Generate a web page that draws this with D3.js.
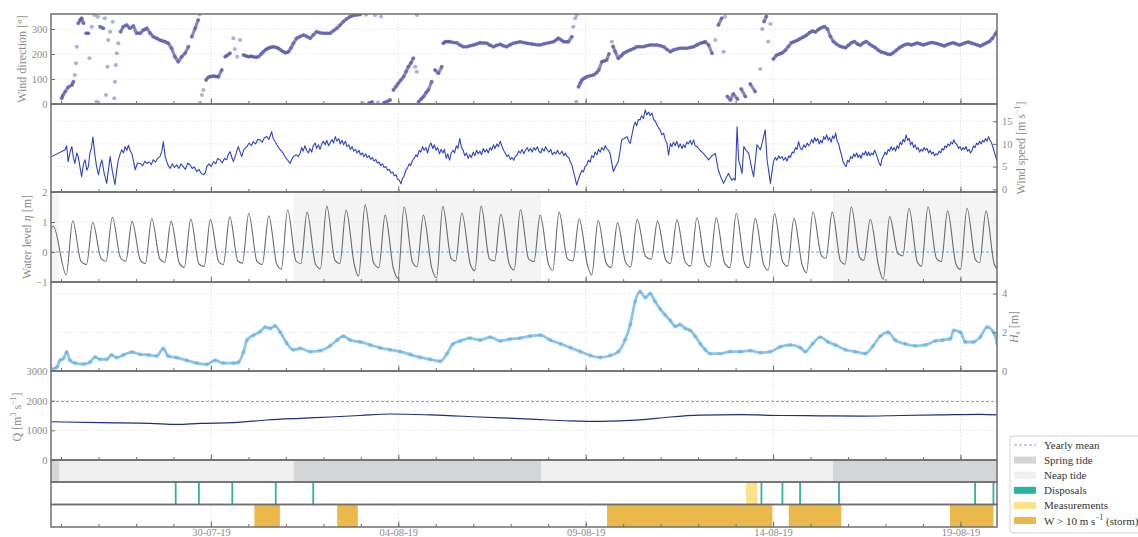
<!DOCTYPE html>
<html>
<head>
<meta charset="utf-8">
<script src="https://cdn.jsdelivr.net/npm/d3@7"></script>
<style>
  body { margin: 0; background: #fff; }
  svg { display: block; }
  text { font-family: "Liberation Serif", "DejaVu Serif", serif; }
</style>
</head>
<body>
<svg id="chart" width="1138" height="537"></svg>
<script>
// Times are fractional days counted from 26-07-2019 00:00 (UTC).
const T0 = Date.UTC(2019, 6, 26);
const day = d => new Date(T0 + d * 864e5);

const timeSpan = [-0.267, 24.975];
const dateTicks = ["2019-07-30", "2019-08-04", "2019-08-09", "2019-08-14", "2019-08-19"];

const windDirTicks = [0, 100, 200, 300];
const windSpeedTicks = [0, 5, 10, 15];
const waterTicks = [-1, 0, 1, 2];
const hsTicks = [0, 2, 4];
const qTicks = [0, 1000, 2000, 3000];

// Wind direction [deg]
const windDirection = [
[0.02,23],[0.05,35],[0.11,49],[0.19,67],[0.29,76],[0.33,89],[0.37,116],[0.40,163],[0.42,229],[0.46,323],[0.51,336],[0.55,343],[0.60,323],[0.67,283],[0.73,283],[0.76,183],[0.82,309],[0.89,356],[0.95,9],[0.98,349],[1.04,309],[1.13,303],[1.17,343],[1.20,36],[1.24,149],[1.26,256],[1.31,289],[1.38,329],[1.42,23],[1.44,89],[1.46,156],[1.49,203],[1.53,243],[1.59,289],[1.66,309],[1.75,316],[1.84,303],[1.93,312],[2.02,283],[2.11,283],[2.20,296],[2.29,303],[2.38,283],[2.46,269],[2.55,263],[2.64,256],[2.71,252],[2.78,249],[2.86,243],[2.95,223],[3.04,189],[3.13,169],[3.22,189],[3.31,203],[3.40,229],[3.49,269],[3.58,303],[3.66,336],[3.70,358],[3.71,5],[3.76,36],[3.80,56],[3.87,96],[3.93,107],[4.00,110],[4.07,112],[4.14,110],[4.20,109],[4.29,136],[4.38,189],[4.44,195],[4.51,203],[4.60,263],[4.64,220],[4.70,189],[4.78,256],[4.87,196],[4.94,192],[5.00,189],[5.07,191],[5.13,189],[5.20,187],[5.27,189],[5.34,200],[5.40,209],[5.47,218],[5.53,223],[5.60,227],[5.67,229],[5.74,226],[5.80,223],[5.87,215],[5.93,209],[6.00,205],[6.07,209],[6.14,225],[6.20,243],[6.29,263],[6.38,270],[6.47,276],[6.56,270],[6.65,263],[6.73,276],[6.82,289],[6.91,285],[7.00,283],[7.09,283],[7.18,283],[7.27,293],[7.36,303],[7.45,316],[7.53,329],[7.62,340],[7.71,349],[7.80,354],[7.89,356],[7.98,358],[8.06,3],[8.14,357],[8.22,4],[8.30,8],[8.38,355],[8.46,6],[8.54,350],[8.62,5],[8.70,10],[8.78,16],[8.87,56],[8.94,70],[9.00,83],[9.07,96],[9.14,109],[9.21,130],[9.27,149],[9.34,165],[9.40,183],[9.45,149],[9.49,129],[9.50,356],[9.54,9],[9.61,20],[9.67,29],[9.74,45],[9.80,56],[9.89,89],[9.98,136],[10.07,123],[10.16,149],[10.20,243],[10.25,249],[10.32,250],[10.38,249],[10.47,246],[10.56,245],[10.65,235],[10.74,229],[10.83,229],[10.92,233],[11.01,236],[11.09,240],[11.18,245],[11.27,244],[11.36,243],[11.45,235],[11.54,229],[11.63,235],[11.72,239],[11.80,233],[11.89,229],[11.98,237],[12.07,243],[12.16,246],[12.25,249],[12.34,246],[12.43,243],[12.52,241],[12.60,239],[12.69,237],[12.78,236],[12.87,240],[12.96,243],[13.05,246],[13.14,249],[13.21,256],[13.27,263],[13.35,256],[13.41,249],[13.48,249],[13.54,249],[13.63,269],[13.67,309],[13.72,343],[13.75,9],[13.76,356],[13.81,69],[13.86,85],[13.90,96],[13.96,103],[14.03,109],[14.12,113],[14.21,116],[14.29,125],[14.35,136],[14.43,169],[14.49,172],[14.56,176],[14.62,200],[14.70,249],[14.73,230],[14.79,209],[14.87,183],[14.95,193],[15.01,203],[15.10,210],[15.19,216],[15.28,222],[15.37,229],[15.45,229],[15.54,229],[15.63,233],[15.72,236],[15.81,236],[15.90,236],[15.99,233],[16.08,229],[16.17,218],[16.26,209],[16.34,216],[16.43,220],[16.52,223],[16.61,223],[16.70,223],[16.79,226],[16.88,229],[16.97,236],[17.06,243],[17.14,246],[17.19,249],[17.28,236],[17.37,203],[17.46,256],[17.54,316],[17.63,343],[17.68,209],[17.72,349],[17.78,30],[17.86,16],
[17.94,40],[18.05,20],[18.15,60],[18.26,30],[18.39,80],[18.52,50],[18.66,140],[18.71,300],[18.76,330],[18.82,350],[18.87,250],[18.93,320],[19.01,180],[19.09,195],[19.17,200],[19.25,205],[19.33,215],[19.41,230],[19.49,245],[19.57,250],[19.65,255],[19.73,262],[19.81,268],[19.89,275],[19.97,285],[20.05,292],[20.13,288],[20.21,298],[20.29,305],[20.37,310],[20.45,300],[20.53,270],[20.61,250],[20.69,240],[20.77,232],[20.85,228],[20.93,225],[21.01,235],[21.09,245],[21.17,250],[21.25,240],[21.33,235],[21.41,245],[21.49,250],[21.57,240],[21.65,232],[21.73,225],[21.81,215],[21.89,208],[21.97,205],[22.05,200],[22.13,198],[22.21,205],[22.29,215],[22.37,225],[22.45,232],[22.53,238],[22.61,240],[22.69,236],[22.77,240],[22.85,244],[22.93,240],[23.01,236],[23.09,240],[23.17,244],[23.25,246],[23.33,243],[23.41,240],[23.49,236],[23.57,232],[23.65,238],[23.73,242],[23.81,245],[23.89,240],[23.97,236],[24.05,240],[24.13,245],[24.21,248],[24.29,244],[24.37,240],[24.45,236],[24.53,232],[24.61,238],[24.69,244],[24.77,250],[24.85,262],[24.93,280],[24.98,290]
];

// Wind speed [m/s]
const windSpeed = [
[-0.25,7.2],[0.11,8.7],[0.15,9.6],[0.19,6.1],[0.24,8.2],[0.29,9.4],[0.33,7.0],[0.37,5.7],[0.42,8.0],[0.46,7.2],[0.50,5.2],[0.55,2.8],[0.60,5.6],[0.64,6.5],[0.69,4.2],[0.73,5.0],[0.77,7.9],[0.81,9.0],[0.85,11.5],[0.88,9.4],[0.91,7.2],[0.95,5.0],[1.00,3.2],[1.05,5.4],[1.09,6.5],[1.15,3.6],[1.22,1.3],[1.27,4.6],[1.31,7.2],[1.37,4.0],[1.44,1.0],[1.49,4.4],[1.53,6.5],[1.58,7.8],[1.62,8.7],[1.67,8.0],[1.71,9.4],[1.76,8.6],[1.80,9.7],[1.85,8.4],[1.89,7.9],[1.94,6.0],[1.98,4.3],[2.04,5.8],[2.11,5.7],[2.18,5.2],[2.24,6.2],[2.29,5.7],[2.36,6.0],[2.41,5.4],[2.46,6.5],[2.52,6.0],[2.58,6.8],[2.64,7.2],[2.69,8.4],[2.73,10.5],[2.78,7.2],[2.84,5.6],[2.91,4.6],[2.97,5.6],[3.03,4.8],[3.09,5.4],[3.15,4.6],[3.20,5.6],[3.26,5.0],[3.32,4.4],[3.38,5.8],[3.44,5.4],[3.50,4.6],[3.56,4.9],[3.62,3.9],[3.68,4.4],[3.74,3.5],[3.80,3.2],[3.85,3.6],[3.89,5.0],[3.95,5.6],[4.01,5.0],[4.07,6.1],[4.13,5.6],[4.18,6.8],[4.24,6.5],[4.30,5.8],[4.36,6.8],[4.42,6.5],[4.46,7.6],[4.51,8.3],[4.56,7.0],[4.60,6.1],[4.66,7.6],[4.73,9.4],[4.78,8.2],[4.82,7.2],[4.88,8.8],[4.96,9.4],[5.02,10.2],[5.08,9.6],[5.13,10.5],[5.19,10.0],[5.25,11.0],[5.31,10.9],[5.37,10.4],[5.43,11.4],[5.49,11.6],[5.55,11.0],[5.62,12.7],[5.66,11.2],[5.71,10.6],[5.76,9.8],[5.82,9.0],[5.88,8.4],[5.93,7.9],[5.99,7.0],[6.05,6.4],[6.11,5.7],[6.16,6.6],[6.20,7.2],[6.28,7.6],[6.33,7.2],
[6.38,7.9],[6.42,9.2],[6.46,8.4],[6.51,9.6],[6.55,8.6],[6.60,8.0],[6.64,9.0],[6.69,8.2],[6.73,9.6],[6.78,10.2],[6.82,9.0],[6.87,9.8],[6.91,8.8],[6.96,10.0],[7.00,10.6],[7.05,9.8],[7.09,10.8],[7.14,9.6],[7.18,10.2],[7.23,11.0],[7.27,10.2],[7.32,11.6],[7.36,10.6],[7.41,11.2],[7.45,10.0],[7.50,10.8],[7.54,9.8],[7.59,10.6],[7.63,9.4],[7.68,9.8],[7.72,8.8],[7.77,9.4],[7.81,8.4],[7.86,8.8],[7.90,8.0],[7.95,8.6],[7.99,7.6],[8.04,8.0],[8.08,7.2],[8.13,7.8],[8.17,7.0],[8.22,7.4],[8.26,6.6],[8.31,7.0],[8.35,6.2],[8.40,6.6],[8.44,5.8],[8.49,6.0],[8.53,5.2],[8.58,5.6],[8.62,4.8],[8.67,5.0],[8.71,4.2],[8.76,4.4],[8.80,3.6],[8.85,3.8],[8.89,3.0],[8.94,3.2],[8.98,2.2],[9.03,2.0],[9.07,1.2],[9.11,2.4],[9.15,2.8],[9.20,4.2],[9.24,4.6],[9.29,5.6],[9.33,5.2],[9.38,6.4],[9.42,6.8],[9.47,7.6],[9.51,7.2],[9.56,8.6],[9.60,8.2],[9.65,9.4],[9.69,8.6],[9.74,9.2],[9.78,8.0],[9.83,9.6],[9.87,10.2],[9.92,9.0],[9.96,9.8],[10.01,8.6],[10.05,9.2],[10.10,7.8],[10.14,8.8],[10.19,8.0],[10.23,8.8],[10.28,6.8],[10.32,7.8],[10.37,6.4],[10.41,8.0],[10.46,8.6],[10.50,8.0],[10.55,9.6],[10.59,9.0],[10.64,11.2],[10.68,9.4],[10.73,8.6],[10.77,7.4],[10.82,8.0],[10.86,6.8],[10.91,7.6],[10.95,7.0],[11.00,8.2],[11.04,7.4],[11.09,8.6],[11.13,7.8],[11.18,8.4],[11.22,7.6],[11.27,9.0],[11.31,8.2],[11.36,8.8],[11.40,8.0],[11.45,9.2],[11.49,8.6],[11.54,9.8],[11.58,9.0],[11.63,10.0],[11.67,9.4],[11.72,10.6],[11.76,9.6],[11.81,8.6],[11.85,8.0],[11.90,7.2],[11.94,7.6],[11.99,6.6],[12.03,7.0],[12.08,6.4],[12.12,7.2],[12.17,7.6],[12.21,8.4],[12.26,8.0],[12.30,8.8],[12.35,7.8],[12.39,8.6],[12.44,9.2],[12.48,8.4],[12.53,9.0],[12.57,8.2],[12.62,9.2],[12.66,8.6],[12.71,9.4],[12.75,8.4],[12.80,8.0],[12.84,9.0],[12.89,8.4],[12.93,9.4],[12.98,8.6],[13.02,8.2],[13.07,8.8],[13.11,7.6],[13.16,8.2],[13.20,7.8],[13.25,8.6],[13.29,7.8],
[13.33,7.9],[13.37,8.4],[13.42,7.4],[13.46,8.0],[13.50,7.2],[13.55,7.0],[13.59,6.0],[13.63,5.4],[13.67,4.0],[13.72,2.4],[13.76,0.9],[13.80,2.0],[13.85,3.2],[13.90,4.2],[13.94,3.8],[13.98,5.0],[14.03,5.4],[14.07,6.4],[14.12,6.0],[14.16,7.4],[14.21,7.0],[14.25,8.2],[14.30,7.6],[14.34,8.8],[14.39,8.2],[14.43,9.2],[14.48,8.6],[14.52,9.6],[14.57,8.8],[14.61,8.6],[14.65,7.9],[14.70,5.6],[14.74,3.9],[14.80,5.0],[14.87,6.1],[14.92,8.6],[14.96,10.9],[15.03,11.2],[15.10,11.6],[15.15,10.6],[15.19,10.1],[15.24,12.2],[15.28,13.8],[15.32,14.8],[15.36,14.0],[15.41,15.4],[15.45,15.3],[15.49,16.2],[15.54,15.6],[15.59,17.5],[15.63,16.4],[15.68,17.0],[15.72,16.2],[15.77,16.8],[15.81,15.4],[15.86,15.0],[15.90,14.2],[15.94,13.6],[15.99,13.0],[16.03,12.0],[16.08,12.4],[16.12,11.0],[16.17,10.1],[16.21,7.5],[16.26,10.1],[16.30,9.4],[16.34,10.4],[16.39,9.6],[16.43,10.6],[16.48,9.2],[16.52,10.0],[16.57,9.0],[16.61,9.8],[16.65,9.2],[16.70,10.4],[16.74,10.0],[16.79,10.8],[16.83,9.8],[16.88,10.9],[16.92,9.6],[16.97,9.4],[17.05,8.6],[17.14,7.9],[17.21,7.2],[17.28,6.5],[17.37,7.4],[17.46,7.9],[17.50,6.0],[17.54,4.2],[17.61,2.6],[17.68,1.3],[17.75,2.6],[17.81,3.5],[17.86,2.6],[17.90,2.0],[17.95,2.4],[17.99,2.0],[18.04,13.8],[18.08,6.5],[18.13,5.0],[18.17,3.5],[18.22,9.4],[18.28,8.6],[18.35,7.9],[18.42,5.0],[18.48,2.8],[18.53,6.6],[18.57,9.8],[18.62,9.2],[18.66,8.7],[18.72,10.6],[18.79,13.1],[18.84,6.5],[18.90,3.0],[18.93,1.3],[18.97,3.8],[19.01,6.1],[19.06,7.0],[19.10,6.4],[19.15,7.4],[19.19,6.8],[19.24,7.2],[19.28,6.4],[19.33,7.0],[19.37,6.2],[19.42,7.4],[19.46,7.0],[19.51,8.2],[19.55,8.0],[19.60,9.2],[19.64,8.8],[19.68,10.5],[19.73,9.0],[19.77,8.7],[19.82,9.8],[19.86,9.2],[19.91,10.2],[19.95,9.6],
[19.99,10.1],[20.03,11.0],[20.07,10.2],[20.11,11.4],[20.15,10.6],[20.19,11.2],[20.23,10.0],[20.27,10.8],[20.31,10.2],[20.35,11.6],[20.39,11.0],[20.43,12.0],[20.47,10.8],[20.51,11.4],[20.55,10.4],[20.59,11.8],[20.63,11.2],[20.67,12.4],[20.71,10.6],[20.75,10.0],[20.79,8.6],[20.83,7.4],[20.87,6.0],[20.91,5.4],[20.95,5.0],[20.99,6.4],[21.03,6.0],[21.07,7.2],[21.11,6.8],[21.15,7.8],[21.19,7.2],[21.23,8.0],[21.27,7.0],[21.31,7.6],[21.35,6.8],[21.39,8.0],[21.43,7.6],[21.47,8.4],[21.51,7.4],[21.55,8.2],[21.59,7.4],[21.63,8.0],[21.67,7.6],[21.71,8.6],[21.75,7.8],[21.79,6.8],[21.83,5.8],[21.87,5.2],[21.91,6.8],[21.95,7.4],[21.99,8.2],[22.03,7.6],[22.07,8.8],[22.11,8.4],[22.15,9.4],[22.19,8.6],[22.23,9.2],[22.27,8.4],[22.31,9.6],[22.35,9.0],[22.39,10.4],[22.43,9.8],[22.47,11.0],[22.51,10.4],[22.55,12.0],[22.59,10.8],[22.63,11.2],[22.67,9.8],[22.71,10.4],[22.75,9.2],[22.79,9.8],[22.83,8.8],[22.87,9.2],[22.91,8.2],[22.95,8.8],[22.99,8.4],[23.03,9.2],[23.07,8.6],[23.11,9.0],[23.15,8.0],[23.19,8.6],[23.23,7.8],[23.27,8.2],[23.31,7.4],[23.35,7.8],[23.39,7.6],[23.43,8.4],[23.47,8.0],[23.51,9.0],[23.55,8.6],[23.59,9.6],[23.63,9.2],[23.67,10.0],[23.71,9.6],[23.75,10.4],[23.79,10.0],[23.82,10.9],[23.86,10.2],[23.91,9.8],[23.95,9.0],[23.99,9.4],[24.03,8.6],[24.07,9.2],[24.11,8.8],[24.15,9.4],[24.19,8.4],[24.23,8.8],[24.27,8.0],[24.31,8.6],[24.35,9.6],[24.39,9.2],[24.43,10.2],[24.47,9.8],[24.51,10.6],[24.55,10.0],[24.59,10.8],[24.63,10.4],[24.67,11.2],[24.71,10.6],[24.75,11.6],[24.79,10.8],[24.83,10.2],[24.87,9.2],[24.91,8.0],[24.95,7.0],[24.98,6.1]
];

// Water level [m]: high waters, ebb shoulders, low waters and the two ends of the record
const highWater = [
[-0.206,0.86],[0.312,1.04],[0.846,0.99],[1.369,1.16],[1.895,1.02],[2.421,1.11],[2.936,1.02],[3.462,1.10],[3.985,1.08],[4.503,1.17],[5.010,1.29],[5.544,1.21],[6.046,1.40],[6.566,1.33],[7.092,1.53],[7.607,1.40],[8.114,1.57],[8.648,1.23],[9.155,1.51],[9.670,1.23],[10.188,1.52],[10.695,1.31],[11.210,1.53],[11.736,1.26],[12.259,1.41],[12.785,1.23],[13.292,1.33],[13.826,1.11],[14.333,1.06],[14.848,0.97],[15.374,1.09],[15.916,1.03],[16.434,1.07],[16.968,1.14],[17.483,1.14],[18.017,1.29],[18.524,1.12],[19.039,1.28],[19.557,1.12],[20.064,1.34],[20.579,1.33],[21.087,1.50],[21.594,1.09],[22.109,1.18],[22.627,1.46],[23.134,1.51],[23.657,1.37],[24.175,1.46],[24.682,1.37]
];
const ebbShoulder = [
[0.53,-0.30],[1.07,-0.22],[1.59,-0.20],[2.12,-0.28],[2.64,-0.24],[3.16,-0.38],[3.68,-0.40],[4.21,-0.33],[4.72,-0.30],[5.23,-0.32],[5.76,-0.42],[6.27,-0.30],[6.79,-0.40],[7.31,-0.28],[7.83,-0.45],[8.34,-0.36],[8.87,-0.55],[9.38,-0.34],[9.89,-0.52],[10.41,-0.22],[10.92,-0.40],[11.43,-0.22],[11.96,-0.40],[12.48,-0.24],[13.01,-0.42],[13.51,-0.22],[14.05,-0.45],[14.55,-0.38],[15.07,-0.36],[15.60,-0.15],[16.14,-0.28],[16.66,-0.34],[17.19,-0.36],[17.71,-0.38],[18.24,-0.38],[18.75,-0.42],[19.26,-0.34],[19.78,-0.45],[20.29,-0.12],[20.80,-0.30],[21.31,-0.18],[21.82,-0.50],[22.33,-0.05],[22.85,-0.34],[23.36,-0.22],[23.88,-0.40],[24.40,-0.26],[24.90,-0.40]
];
const lowWater = [
[0.14,-0.76],[0.68,-0.42],[1.20,-0.31],[1.73,-0.31],[2.25,-0.39],[2.77,-0.34],[3.29,-0.51],[3.82,-0.48],[4.33,-0.42],[4.84,-0.37],[5.37,-0.42],[5.88,-0.57],[6.40,-0.39],[6.92,-0.56],[7.44,-0.39],[7.94,-0.80],[8.48,-0.52],[8.99,-0.88],[9.50,-0.49],[10.02,-0.86],[10.53,-0.30],[11.04,-0.63],[11.57,-0.30],[12.09,-0.60],[12.62,-0.32],[13.12,-0.61],[13.66,-0.30],[14.16,-0.77],[14.68,-0.52],[15.20,-0.50],[15.75,-0.24],[16.26,-0.39],[16.80,-0.47],[17.31,-0.50],[17.85,-0.52],[18.35,-0.52],[18.87,-0.61],[19.39,-0.47],[19.89,-0.69],[20.41,-0.21],[20.92,-0.41],[21.42,-0.28],[21.94,-0.91],[22.46,-0.13],[22.96,-0.47],[23.49,-0.32],[24.00,-0.58],[24.51,-0.36]
];
const waterEnds = [[-0.267,0.80],[24.975,-0.55]];

// Significant wave height [m]
const waveHeight = [
[-0.25,0.09],[-0.11,0.2],[-0.03,0.55],[0.06,0.64],[0.15,0.98],[0.24,0.55],[0.37,0.41],[0.60,0.36],[0.77,0.45],[0.91,0.72],[1.04,0.6],[1.22,0.6],[1.35,0.83],[1.49,0.69],[1.66,0.83],[1.89,0.98],[2.11,0.86],[2.33,0.83],[2.55,0.77],[2.73,1.16],[2.86,0.77],[3.09,0.69],[3.36,0.55],[3.62,0.41],[3.89,0.34],[4.11,0.55],[4.33,0.41],[4.60,0.41],[4.73,0.45],[4.87,0.98],[4.96,1.59],[5.13,1.84],[5.31,2.02],[5.45,2.27],[5.58,2.2],[5.71,2.33],[5.85,2.0],[6.02,1.45],[6.20,1.1],[6.38,1.17],[6.65,1.0],[6.91,1.05],[7.18,1.3],[7.37,1.6],[7.53,1.8],[7.71,1.6],[7.98,1.5],[8.25,1.35],[8.51,1.2],[8.78,1.1],[9.05,1.0],[9.32,0.85],[9.58,0.7],[9.85,0.6],[10.12,0.5],[10.30,0.9],[10.46,1.4],[10.65,1.55],[10.91,1.7],[11.18,1.6],[11.45,1.75],[11.72,1.55],[11.98,1.65],[12.25,1.7],[12.52,1.8],[12.79,1.85],[13.05,1.6],[13.33,1.4],[13.60,1.2],[13.86,1.0],[14.12,0.8],[14.39,0.7],[14.65,0.8],[14.87,1.0],[15.05,1.6],[15.19,2.4],[15.32,3.6],[15.45,4.1],[15.59,3.8],[15.72,4.0],[15.85,3.6],[15.99,3.2],[16.12,2.9],[16.26,2.6],[16.39,2.3],[16.52,2.4],[16.66,2.2],[16.79,2.1],[16.92,1.8],[17.06,1.4],[17.19,1.1],[17.32,0.9],[17.59,0.9],[17.86,1.0],[18.12,1.0],[18.39,1.05],[18.66,0.95],[18.93,1.0],[19.19,1.25],[19.46,1.35],[19.73,1.2],[19.86,1.0],[20.05,1.4],[20.26,1.75],[20.47,1.5],[20.66,1.35],[20.93,1.1],[21.19,1.0],[21.46,0.9],[21.67,1.3],[21.86,1.8],[22.07,2.0],[22.26,1.6],[22.53,1.4],[22.79,1.3],[23.06,1.35],[23.33,1.55],[23.52,1.6],[23.73,1.67],[23.82,2.1],[24.00,2.0],[24.13,1.5],[24.35,1.5],[24.53,1.76],[24.71,2.27],[24.88,2.0],[24.98,1.42]
];

// River discharge [m3/s]
const discharge = [
[-0.25,1290],[1.04,1257],[2.38,1236],[3.09,1203],[3.71,1236],[4.60,1257],[5.49,1348],[6.38,1405],[7.18,1450],[7.98,1500],[8.78,1550],[9.85,1520],[11.18,1450],[12.52,1380],[13.60,1320],[14.39,1300],[15.45,1350],[16.26,1450],[17.06,1510],[18.12,1530],[19.19,1500],[20.26,1490],[21.33,1480],[22.39,1500],[23.46,1520],[24.53,1540],[24.98,1520]
];
const yearlyMeanDischarge = 1970;

// Event periods [start, end] in days
const springTide = [[-0.267, -0.045], [6.20, 12.81], [20.60, 24.975]];
const neapTide = [[-0.045, 6.20], [12.81, 20.60]];
const disposals = [3.06, 3.68, 4.57, 5.73, 6.73, 18.69, 19.25, 19.72, 20.76, 24.39, 24.88];
const measurements = [[18.28, 18.58]];
const storms = [[5.16, 5.84], [7.37, 7.92], [14.57, 18.98], [19.42, 20.82], [23.72, 24.88]];

const legendLabels = ["Yearly mean", "Spring tide", "Neap tide", "Disposals", "Measurements", "W > 10 m s"];

// ---------------------------------------------------------------
const svg = d3.select("#chart");
const X_LEFT = 51, X_RIGHT = 997;
const x = d3.scaleUtc().domain(timeSpan.map(day)).range([X_LEFT, X_RIGHT]);
const tx = d => x(day(d));

const band = {
  dir: [14, 104], spd: [104, 192], wl: [192, 282], hs: [282, 371],
  q: [371, 460], tide: [460, 482], disp: [482, 504.5], storm: [504.5, 527]
};

const yDir = d3.scaleLinear([0, 360], [band.dir[1], band.dir[0]]);
const ySpd = d3.scaleLinear([-0.6, 18.8], [band.spd[1], band.spd[0]]);
const yWl = d3.scaleLinear([-1, 2], [band.wl[1], band.wl[0]]);
const yHs = d3.scaleLinear([0, 4.6], [band.hs[1], band.hs[0]]);
const yQ = d3.scaleLinear([0, 3000], [band.q[1], band.q[0]]);

const FRAME = "#6f6f6f", TICK_TEXT = "#8a8a8a", GRID = "#d6d6d6", MEAN = "#7aa3d6";
const majorDates = dateTicks.map(d3.utcParse("%Y-%m-%d"));
const dayTicks = d3.utcDay.range(x.domain()[0], x.domain()[1]);

const defs = svg.append("defs");
Object.entries(band).forEach(([k, [t, b]]) => {
  defs.append("clipPath").attr("id", "clip-" + k)
    .append("rect").attr("x", X_LEFT).attr("y", t).attr("width", X_RIGHT - X_LEFT).attr("height", b - t);
});
const layer = k => svg.append("g").attr("clip-path", `url(#clip-${k})`);

// spring-tide shading behind the water level
layer("wl").selectAll("rect").data(springTide).join("rect")
  .attr("x", d => tx(d[0])).attr("width", d => tx(d[1]) - tx(d[0]))
  .attr("y", band.wl[0]).attr("height", band.wl[1] - band.wl[0])
  .attr("fill", "#f4f4f4");

// grids
function vGrid(k) {
  svg.append("g").selectAll("line").data(majorDates).join("line")
    .attr("x1", d => x(d)).attr("x2", d => x(d))
    .attr("y1", band[k][0]).attr("y2", band[k][1])
    .attr("stroke", GRID).attr("stroke-width", 0.8).attr("stroke-dasharray", "1.2,2");
}
function hGrid(y, vals) {
  svg.append("g").selectAll("line").data(vals).join("line")
    .attr("x1", X_LEFT).attr("x2", X_RIGHT)
    .attr("y1", d => y(d)).attr("y2", d => y(d))
    .attr("stroke", GRID).attr("stroke-width", 0.8).attr("stroke-dasharray", "1.2,2");
}
["dir", "spd", "wl", "hs", "q", "storm"].forEach(vGrid);
hGrid(yDir, [100, 200, 300]);
hGrid(ySpd, [5, 10, 15]);
hGrid(yWl, [1]);
hGrid(yHs, [2, 4]);
hGrid(yQ, [1000, 2000]);

// wind direction: slowly veering stretches form a dense track, fast swings stay as loose dots
const dirRuns = [];
let run = [windDirection[0]];
for (let i = 1; i < windDirection.length; i++) {
  const a = windDirection[i - 1], b = windDirection[i];
  const jump = Math.abs(b[1] - a[1]);
  if (jump < 40 && jump / (b[0] - a[0]) < 450) run.push(b);
  else { dirRuns.push(run); run = [b]; }
}
dirRuns.push(run);
const dirG = layer("dir");
dirG.selectAll("path").data(dirRuns.filter(r => r.length > 1)).join("path")
  .attr("d", d3.line().x(d => tx(d[0])).y(d => yDir(d[1])))
  .attr("fill", "none").attr("stroke", "#3d3d9c").attr("stroke-opacity", 0.6)
  .attr("stroke-width", 3.2).attr("stroke-linecap", "round").attr("stroke-linejoin", "round");
dirG.selectAll("circle").data(windDirection).join("circle")
  .attr("cx", d => tx(d[0])).attr("cy", d => yDir(d[1]))
  .attr("r", 2.1).attr("fill", "#3d3d9c").attr("fill-opacity", 0.4);

// wind speed
layer("spd").append("path").datum(windSpeed)
  .attr("d", d3.line().x(d => tx(d[0])).y(d => ySpd(d[1])))
  .attr("fill", "none").attr("stroke", "#2e44c2").attr("stroke-width", 1.1).attr("stroke-linejoin", "round");

// water level
const tide = [...waterEnds, ...highWater, ...ebbShoulder, ...lowWater].sort((a, b) => a[0] - b[0]);
const wl = layer("wl");
wl.append("line").attr("x1", X_LEFT).attr("x2", X_RIGHT).attr("y1", yWl(0)).attr("y2", yWl(0))
  .attr("stroke", MEAN).attr("stroke-width", 1).attr("stroke-dasharray", "3,2");
wl.append("path").datum(tide)
  .attr("d", d3.line().x(d => tx(d[0])).y(d => yWl(d[1])).curve(d3.curveMonotoneX))
  .attr("fill", "none").attr("stroke", "#6a6a6a").attr("stroke-width", 1.1);

// wave height
const hs = layer("hs");
hs.append("path").datum(waveHeight)
  .attr("d", d3.line().x(d => tx(d[0])).y(d => yHs(d[1])).curve(d3.curveMonotoneX))
  .attr("fill", "none").attr("stroke", "#4fa6df").attr("stroke-width", 2.8).attr("stroke-opacity", 0.65);
hs.selectAll("circle").data(waveHeight).join("circle")
  .attr("cx", d => tx(d[0])).attr("cy", d => yHs(d[1]))
  .attr("r", 2.2).attr("fill", "#4fa6df").attr("fill-opacity", 0.4);

// discharge
const q = layer("q");
q.append("line").attr("x1", X_LEFT).attr("x2", X_RIGHT)
  .attr("y1", yQ(yearlyMeanDischarge)).attr("y2", yQ(yearlyMeanDischarge))
  .attr("stroke", MEAN).attr("stroke-width", 1).attr("stroke-dasharray", "3,2");
q.append("path").datum(discharge)
  .attr("d", d3.line().x(d => tx(d[0])).y(d => yQ(d[1])).curve(d3.curveMonotoneX))
  .attr("fill", "none").attr("stroke", "#1f2d7d").attr("stroke-width", 1.2);

// spring / neap tide strip
const tideG = layer("tide");
tideG.selectAll("rect.spring").data(springTide).join("rect").attr("class", "spring")
  .attr("x", d => tx(d[0])).attr("width", d => tx(d[1]) - tx(d[0]))
  .attr("y", band.tide[0]).attr("height", band.tide[1] - band.tide[0]).attr("fill", "#d4d5d7");
tideG.selectAll("rect.neap").data(neapTide).join("rect").attr("class", "neap")
  .attr("x", d => tx(d[0])).attr("width", d => tx(d[1]) - tx(d[0]))
  .attr("y", band.tide[0]).attr("height", band.tide[1] - band.tide[0]).attr("fill", "#efefef");

// disposals and measurements
const disp = layer("disp");
disp.selectAll("rect").data(measurements).join("rect")
  .attr("x", d => tx(d[0])).attr("width", d => tx(d[1]) - tx(d[0]))
  .attr("y", band.disp[0]).attr("height", band.disp[1] - band.disp[0]).attr("fill", "#fde28a");
disp.selectAll("line").data(disposals).join("line")
  .attr("x1", d => tx(d)).attr("x2", d => tx(d))
  .attr("y1", band.disp[0]).attr("y2", band.disp[1])
  .attr("stroke", "#2bb59c").attr("stroke-width", 1.8);

// storms
layer("storm").selectAll("rect").data(storms).join("rect")
  .attr("x", d => tx(d[0])).attr("width", d => tx(d[1]) - tx(d[0]))
  .attr("y", band.storm[0]).attr("height", band.storm[1] - band.storm[0]).attr("fill", "#ebb84b");

// frames
svg.append("g").selectAll("rect").data(Object.values(band)).join("rect")
  .attr("x", X_LEFT).attr("y", d => d[0]).attr("width", X_RIGHT - X_LEFT).attr("height", d => d[1] - d[0])
  .attr("fill", "none").attr("stroke", FRAME).attr("stroke-width", 1.5);

// axes
function styleAxis(g) {
  g.select(".domain").remove();
  g.selectAll(".tick line").attr("stroke", FRAME).attr("stroke-width", 1);
  g.selectAll(".tick text").attr("fill", TICK_TEXT).attr("font-size", 10.5)
    .attr("font-family", "'Liberation Serif', 'DejaVu Serif', serif");
}
const intFmt = d3.format("d");
["dir", "spd", "wl", "hs", "q", "storm"].forEach(k => {
  svg.append("g").attr("transform", `translate(0,${band[k][1]})`)
    .call(d3.axisBottom(x).tickValues(dayTicks).tickSize(-3).tickFormat(""))
    .call(styleAxis);
  svg.append("g").attr("transform", `translate(0,${band[k][1]})`)
    .call(d3.axisBottom(x).tickValues(majorDates).tickSize(-5.5).tickPadding(1.5)
      .tickFormat(k === "storm" ? d3.utcFormat("%d-%m-%y") : ""))
    .call(styleAxis);
});
svg.append("g").attr("transform", `translate(${X_LEFT},0)`)
  .call(d3.axisLeft(yDir).tickValues(windDirTicks).tickSize(-4).tickPadding(3.5).tickFormat(intFmt)).call(styleAxis);
svg.append("g").attr("transform", `translate(${X_LEFT},0)`)
  .call(d3.axisLeft(yWl).tickValues(waterTicks).tickSize(-4).tickPadding(3.5).tickFormat(intFmt)).call(styleAxis);
svg.append("g").attr("transform", `translate(${X_LEFT},0)`)
  .call(d3.axisLeft(yQ).tickValues(qTicks).tickSize(-4).tickPadding(3.5).tickFormat(intFmt)).call(styleAxis);
svg.append("g").attr("transform", `translate(${X_RIGHT},0)`)
  .call(d3.axisRight(ySpd).tickValues(windSpeedTicks).tickSize(-4).tickPadding(5).tickFormat(intFmt)).call(styleAxis);
svg.append("g").attr("transform", `translate(${X_RIGHT},0)`)
  .call(d3.axisRight(yHs).tickValues(hsTicks).tickSize(-4).tickPadding(5).tickFormat(intFmt)).call(styleAxis);

// axis titles
function title(cx, cy, parts) {
  const t = svg.append("text")
    .attr("transform", `translate(${cx},${cy}) rotate(-90)`)
    .attr("text-anchor", "middle").attr("dominant-baseline", "central")
    .attr("fill", TICK_TEXT).attr("font-size", 12);
  parts.forEach(p => {
    const s = t.append("tspan").text(p.t);
    if (p.i) s.attr("font-style", "italic");
    if (p.sup) s.attr("font-size", 8).attr("dy", -4);
    if (p.sub) s.attr("font-size", 8).attr("dy", 3);
    if (p.back) s.attr("dy", p.back);
  });
}
title(22, 59, [{ t: "Wind direction [°]" }]);
title(1021, 148, [{ t: "Wind speed [m s" }, { t: "−1", sup: true }, { t: "]", back: 4 }]);
title(27, 237, [{ t: "Water level " }, { t: "η", i: true }, { t: " [m]" }]);
title(1014, 327, [{ t: "H", i: true }, { t: "s", i: true, sub: true }, { t: " [m]", back: -3 }]);
title(17, 417, [{ t: "Q [m" }, { t: "3", sup: true }, { t: " s", back: 4 }, { t: "−1", sup: true }, { t: "]", back: 4 }]);

// legend
const lg = svg.append("g").attr("transform", "translate(1010,436)");
lg.append("rect").attr("x", 0).attr("y", 0).attr("width", 140).attr("height", 97).attr("rx", 3)
  .attr("fill", "#fff").attr("stroke", "#d2d2d2").attr("stroke-width", 1);
const swatches = [
  { type: "line", color: MEAN }, { color: "#d4d5d7" }, { color: "#efefef" },
  { color: "#2bb59c" }, { color: "#fde28a" }, { color: "#ebb84b" }
];
swatches.forEach((s, i) => {
  const cy = 9 + i * 15.1;
  if (s.type === "line") {
    lg.append("line").attr("x1", 4).attr("x2", 26).attr("y1", cy).attr("y2", cy)
      .attr("stroke", s.color).attr("stroke-width", 1).attr("stroke-dasharray", "3,2");
  } else {
    lg.append("rect").attr("x", 4).attr("y", cy - 3.5).attr("width", 22).attr("height", 7).attr("fill", s.color);
  }
  const t = lg.append("text").attr("x", 34).attr("y", cy).attr("dominant-baseline", "central")
    .attr("fill", "#333").attr("font-size", 11).text(legendLabels[i]);
  if (i === 5) {
    t.append("tspan").attr("font-size", 7.5).attr("dy", -4).text("−1");
    t.append("tspan").attr("dy", 4).text(" (storm)");
  }
});
</script>
</body>
</html>
